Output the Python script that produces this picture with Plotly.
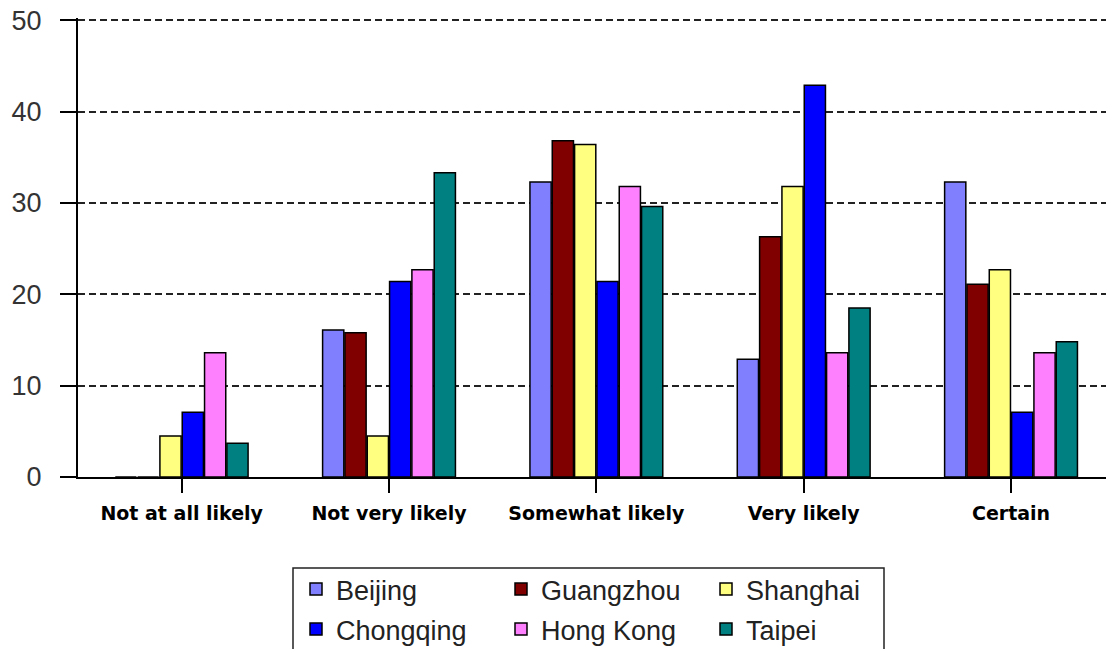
import plotly.graph_objects as go

categories = ["Not at all likely", "Not very likely", "Somewhat likely", "Very likely", "Certain"]

beijing = [0, 16.1, 32.3, 12.9, 32.3]
guangzhou = [0, 15.8, 36.8, 26.3, 21.1]
shanghai = [4.5, 4.5, 36.4, 31.8, 22.7]
chongqing = [7.1, 21.4, 21.4, 42.9, 7.1]
hong_kong = [13.6, 22.7, 31.8, 13.6, 13.6]
taipei = [3.7, 33.3, 29.6, 18.5, 14.8]

series = [
    ("Beijing", beijing, "#8080FF", "legend"),
    ("Guangzhou", guangzhou, "#800000", "legend"),
    ("Shanghai", shanghai, "#FFFF80", "legend"),
    ("Chongqing", chongqing, "#0000FF", "legend2"),
    ("Hong Kong", hong_kong, "#FF80FF", "legend2"),
    ("Taipei", taipei, "#008080", "legend2"),
]

fig = go.Figure()
for name, vals, color, leg in series:
    fig.add_trace(go.Bar(
        x=categories, y=vals, name=name, legend=leg,
        marker=dict(color=color, line=dict(color="black", width=1.5)),
    ))

W, H = 1106, 649
ML, MR, MT, MB = 78, 0, 18, 172
pw = W - ML - MR
ph = H - MT - MB

def px_x(p):
    return (p - ML) / pw

def px_y(p):
    return (H - MB - p) / ph

legend_font = dict(family="Liberation Sans, Arial, sans-serif", size=27, color="#222")

fig.update_layout(
    width=W, height=H,
    margin=dict(l=ML, r=MR, t=MT, b=MB, autoexpand=False),
    paper_bgcolor="white", plot_bgcolor="white",
    barmode="group", bargap=0.354, bargroupgap=0.05,
    showlegend=True,
    legend=dict(
        orientation="h", x=px_x(296), xanchor="left", y=px_y(565), yanchor="top",
        font=legend_font, entrywidth=160, entrywidthmode="pixels",
        bgcolor="rgba(0,0,0,0)", borderwidth=0, traceorder="normal",
    ),
    legend2=dict(
        orientation="h", x=px_x(296), xanchor="left", y=px_y(605), yanchor="top",
        font=legend_font, entrywidth=160, entrywidthmode="pixels",
        bgcolor="rgba(0,0,0,0)", borderwidth=0, traceorder="normal",
    ),
    shapes=[dict(
        type="rect", xref="paper", yref="paper",
        x0=px_x(293), x1=px_x(884), y0=px_y(568), y1=px_y(700),
        line=dict(color="#222", width=1.5), fillcolor="rgba(0,0,0,0)", layer="above",
    )],
    xaxis=dict(
        type="category", range=[-0.5, 4.458],
        showline=True, linecolor="black", linewidth=2,
        ticks="outside", ticklen=14, tickwidth=2, tickcolor="black",
        tickfont=dict(family="DejaVu Sans, sans-serif", size=19, color="black", weight="bold"),
        ticklabelstandoff=4,
        showgrid=False, zeroline=False,
    ),
    yaxis=dict(
        range=[0, 50.25], tickvals=[0, 10, 20, 30, 40, 50],
        showline=True, linecolor="black", linewidth=2,
        ticks="outside", ticklen=16, tickwidth=2, tickcolor="black",
        tickfont=dict(family="Liberation Sans, Arial, sans-serif", size=27, color="#333"),
        ticklabelstandoff=13,
        showgrid=True, gridcolor="#222", gridwidth=2, griddash="7px,4px",
        zeroline=False,
    ),
)

fig.write_html("out.html")
